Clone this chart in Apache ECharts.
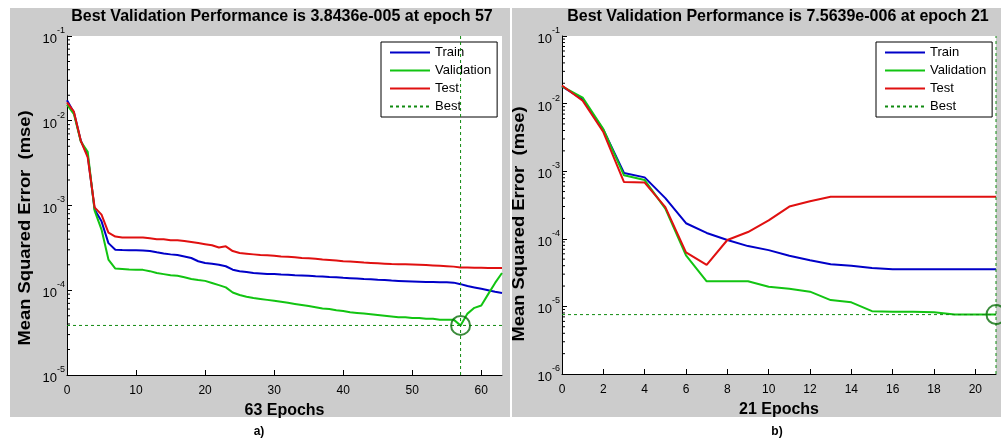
<!DOCTYPE html>
<html><head><meta charset="utf-8">
<script src="https://cdn.jsdelivr.net/npm/echarts@6/dist/echarts.min.js"></script>
<style>html,body{margin:0;padding:0;background:#fff}#c{width:1001px;height:446px}</style>
</head><body><div id="c"></div>
<script>
// ---------- DATA ----------
const epochsA = Array.from({length: 64}, (_, i) => i);   // 0..63
const trainA = [0.0175,0.0125,0.0058,0.0039,0.0009,0.00065,0.00036,0.00030,0.000298,0.000297,
  0.000296,0.000295,0.00029,0.00028,0.000272,0.000265,0.00026,0.00025,0.00024,0.00022,
  0.00021,0.000205,0.0002,0.000192,0.000175,0.000168,0.000164,0.00016,0.000158,0.000156,
  0.000155,0.000153,0.000152,0.00015,0.000149,0.000148,0.000146,0.000145,0.000143,0.000142,
  0.00014,0.000139,0.000138,0.000136,0.000135,0.000133,0.000132,0.00013,0.000129,0.000128,
  0.000127,0.000126,0.000125,0.000125,0.000124,0.000124,0.000123,0.000118,0.000112,0.000108,
  0.000104,0.0001,0.000096,0.000093];
const valA = [0.0155,0.012,0.0057,0.0043,0.00087,0.00052,0.00023,0.00018,0.000178,0.000176,
  0.000175,0.000174,0.000168,0.00016,0.000155,0.00015,0.000148,0.000142,0.000136,0.000132,
  0.000129,0.000122,0.000115,0.000108,0.000094,0.000088,0.000084,0.000081,0.000079,0.000077,
  0.000075,0.000073,0.000071,0.000069,0.000067,0.000065,0.000063,0.000061,0.00006,0.000058,
  0.000057,0.000055,0.000054,0.000053,0.000052,0.000051,0.00005,0.000049,0.000048,0.000048,
  0.000047,0.000047,0.000046,0.000046,0.000045,0.000045,0.000045,0.000038436,0.000053,0.000062,
  0.000066,0.00009,0.000122,0.00016];
const testA = [0.0165,0.0128,0.0058,0.0037,0.00095,0.00078,0.00048,0.00043,0.00042,0.00042,
  0.00042,0.00042,0.00041,0.0004,0.0004,0.00039,0.00039,0.00038,0.00037,0.00036,
  0.00035,0.00034,0.00032,0.00033,0.00029,0.000275,0.00027,0.000265,0.00026,0.000258,
  0.000255,0.00025,0.000248,0.000245,0.00024,0.000238,0.000235,0.00023,0.000228,0.000225,
  0.00022,0.000218,0.000215,0.000212,0.00021,0.000208,0.000206,0.000204,0.000203,0.000202,
  0.000201,0.0002,0.000198,0.000196,0.000194,0.000192,0.00019,0.000186,0.000185,0.000184,
  0.000184,0.000183,0.000183,0.000183];
const bestEpochA = 57, bestValA = 3.8436e-5;

const epochsB = Array.from({length: 22}, (_, i) => i);   // 0..21
const trainB = [0.018,0.0115,0.0041,0.00094,0.00081,0.0004,0.00017,0.000122,0.000096,0.000078,
  0.000068,0.000056,0.000048,0.000042,0.00004,0.000037,0.0000355,0.0000355,0.0000355,0.0000355,
  0.0000355,0.0000355];
const valB = [0.018,0.0123,0.0042,0.00087,0.00074,0.00028,0.000057,0.0000235,0.0000235,0.0000235,
  0.0000195,0.0000183,0.0000165,0.0000124,0.0000115,0.0000085,0.0000083,0.0000083,0.0000082,0.0000076,
  0.0000076,0.0000075639];
const testB = [0.0185,0.011,0.0038,0.00069,0.00068,0.000295,0.000063,0.000041,0.000096,0.000126,
  0.000187,0.0003,0.00036,0.00042,0.00042,0.00042,0.00042,0.00042,0.00042,0.00042,
  0.00042,0.00042];
const bestEpochB = 21, bestValB = 7.5639e-6;

const titles = ['Best Validation Performance is 3.8436e-005 at epoch 57',
                'Best Validation Performance is 7.5639e-006 at epoch 21'];
const xNames = ['63 Epochs', '21 Epochs'];
const yName = 'Mean Squared Error  (mse)';
const legendNames = ['Train', 'Validation', 'Test', 'Best'];
const panelTags = ['a)', 'b)'];
const minorMult = [2,3,4,5,6,7,8,9];
const decadesA = [-5,-4,-3,-2];
const decadesB = [-6,-5,-4,-3,-2];

// ---------- STYLE ----------
const FONT = "'Liberation Sans', Arial, sans-serif";
const C_TRAIN = '#0000c8', C_VAL = '#12c412', C_TEST = '#e01010', C_BEST = '#108a10', C_CIRC = '#0a6e0a';

function pairs(xs, ys) { return xs.map((x, i) => [x, ys[i]]); }
function minorVals(decs) { const out = []; decs.forEach(d => minorMult.forEach(m => out.push([0, m * Math.pow(10, d)]))); return out; }

const chart = echarts.init(document.getElementById('c'), null, {renderer: 'canvas'});

function xAxisDef(gi, max, step, name) {
  return {
    gridIndex: gi, type: 'value', min: 0, max: max, interval: step,
    axisLine: {lineStyle: {color: '#000', width: 1}},
    axisTick: {inside: true, length: 5, lineStyle: {color: '#000'}},
    axisLabel: {color: '#000', fontSize: 12, fontFamily: FONT, margin: 10, showMaxLabel: false,
      formatter: v => (Math.abs(v % step) < 1e-9 ? String(v) : '')},
    splitLine: {show: false},
    name: name, nameLocation: 'middle', nameGap: 28,
    nameTextStyle: {fontWeight: 'bold', fontSize: 16, color: '#000', fontFamily: FONT}
  };
}
function yAxisDef(gi, min, max) {
  return {
    gridIndex: gi, type: 'log', logBase: 10, min: min, max: max, splitNumber: 6,
    axisLine: {lineStyle: {color: '#000', width: 1}},
    axisTick: {inside: true, length: 5, lineStyle: {color: '#000'}},
    axisLabel: {color: '#000', margin: 2, fontFamily: FONT,
      formatter: v => '{b|10}{s|' + Math.round(Math.log10(v)) + '}',
      rich: {
        b: {fontSize: 13, fontFamily: FONT, color: '#000', lineHeight: 20, verticalAlign: 'bottom'},
        s: {fontSize: 9, fontFamily: FONT, color: '#000', lineHeight: 20, verticalAlign: 'top'}
      }},
    splitLine: {show: false}
  };
}
function lineSeries(name, gi, data, color, z) {
  return {name: name, type: 'line', xAxisIndex: gi, yAxisIndex: gi, data: data, symbol: 'none',
    showSymbol: false, lineStyle: {color: color, width: 2}, itemStyle: {color: color}, z: z, silent: true};
}
function bestSeries(gi, data) {
  return {name: 'Best', type: 'line', xAxisIndex: gi, yAxisIndex: gi, data: data, symbol: 'none',
    showSymbol: false, lineStyle: {color: C_BEST, width: 1, type: [3, 3]}, itemStyle: {color: C_BEST}, z: 4, silent: true};
}
function minorSeries(gi, decs) {
  return {type: 'custom', xAxisIndex: gi, yAxisIndex: gi, data: minorVals(decs), silent: true, z: 10,
    renderItem: (params, api) => {
      const p = api.coord([api.value(0), api.value(1)]);
      return {type: 'line', shape: {x1: p[0], y1: p[1], x2: p[0] + 3, y2: p[1]}, style: {stroke: '#000', lineWidth: 1}};
    }};
}
function circleSeries(gi, ep, v) {
  return {type: 'scatter', xAxisIndex: gi, yAxisIndex: gi, data: [[ep, v]], symbol: 'circle', symbolSize: 19,
    itemStyle: {color: 'rgba(0,0,0,0)', borderColor: C_CIRC, borderWidth: 2}, z: 6, silent: true, clip: false};
}
function legendDef(left) {
  return {left: left, top: 42, orient: 'vertical', data: legendNames, itemWidth: 40, itemHeight: 14, itemGap: 5,
    padding: [4, 6, 4, 8], borderColor: '#000', borderWidth: 1, backgroundColor: '#fff', borderRadius: 0,
    selectedMode: false, itemStyle: {opacity: 0, borderWidth: 0},
    textStyle: {fontSize: 13, color: '#000', fontFamily: FONT}};
}

const option = {
  animation: false,
  backgroundColor: '#fff',
  graphic: [
    {type: 'rect', shape: {x: 10, y: 8, width: 500, height: 409}, style: {fill: '#cccccc'}, z: -100, silent: true},
    {type: 'rect', shape: {x: 512, y: 8, width: 489, height: 409}, style: {fill: '#cccccc'}, z: -100, silent: true},
    {type: 'text', x: 282, y: 17, z: 100, style: {text: titles[0], font: 'bold 16px ' + FONT, fill: '#000', align: 'center', verticalAlign: 'middle'}},
    {type: 'text', x: 778, y: 17, z: 100, style: {text: titles[1], font: 'bold 16px ' + FONT, fill: '#000', align: 'center', verticalAlign: 'middle'}},
    {type: 'text', x: 26, y: 228, rotation: Math.PI / 2, scaleX: 1.15, z: 100, style: {text: yName, font: 'bold 16px ' + FONT, fill: '#000', align: 'center', verticalAlign: 'middle'}},
    {type: 'text', x: 520, y: 224, rotation: Math.PI / 2, scaleX: 1.15, z: 100, style: {text: yName, font: 'bold 16px ' + FONT, fill: '#000', align: 'center', verticalAlign: 'middle'}},
    {type: 'text', x: 259, y: 432, z: 100, style: {text: panelTags[0], font: 'bold 12px ' + FONT, fill: '#000', align: 'center', verticalAlign: 'middle'}},
    {type: 'text', x: 777, y: 432, z: 100, style: {text: panelTags[1], font: 'bold 12px ' + FONT, fill: '#000', align: 'center', verticalAlign: 'middle'}}
  ],
  grid: [
    {left: 67, top: 36, width: 435, height: 339, show: true, backgroundColor: '#fff', borderWidth: 0, containLabel: false},
    {left: 562, top: 36, width: 434, height: 338, show: true, backgroundColor: '#fff', borderWidth: 0, containLabel: false}
  ],
  legend: [legendDef(381), legendDef(876)],
  xAxis: [xAxisDef(0, 63, 10, xNames[0]), xAxisDef(1, 21, 2, xNames[1])],
  yAxis: [yAxisDef(0, 1e-5, 1e-1), yAxisDef(1, 1e-6, 1e-1)],
  series: [
    lineSeries('Train', 0, pairs(epochsA, trainA), C_TRAIN, 2),
    lineSeries('Validation', 0, pairs(epochsA, valA), C_VAL, 3),
    lineSeries('Test', 0, pairs(epochsA, testA), C_TEST, 4),
    bestSeries(0, [[0, bestValA], [63, bestValA]]),
    bestSeries(0, [[bestEpochA, 1e-5], [bestEpochA, 1e-1]]),
    circleSeries(0, bestEpochA, bestValA),
    minorSeries(0, decadesA),
    lineSeries('Train', 1, pairs(epochsB, trainB), C_TRAIN, 2),
    lineSeries('Validation', 1, pairs(epochsB, valB), C_VAL, 3),
    lineSeries('Test', 1, pairs(epochsB, testB), C_TEST, 4),
    bestSeries(1, [[0, bestValB], [21, bestValB]]),
    bestSeries(1, [[bestEpochB, 1e-6], [bestEpochB, 1e-1]]),
    circleSeries(1, bestEpochB, bestValB),
    minorSeries(1, decadesB)
  ]
};
chart.setOption(option);
</script></body></html>
